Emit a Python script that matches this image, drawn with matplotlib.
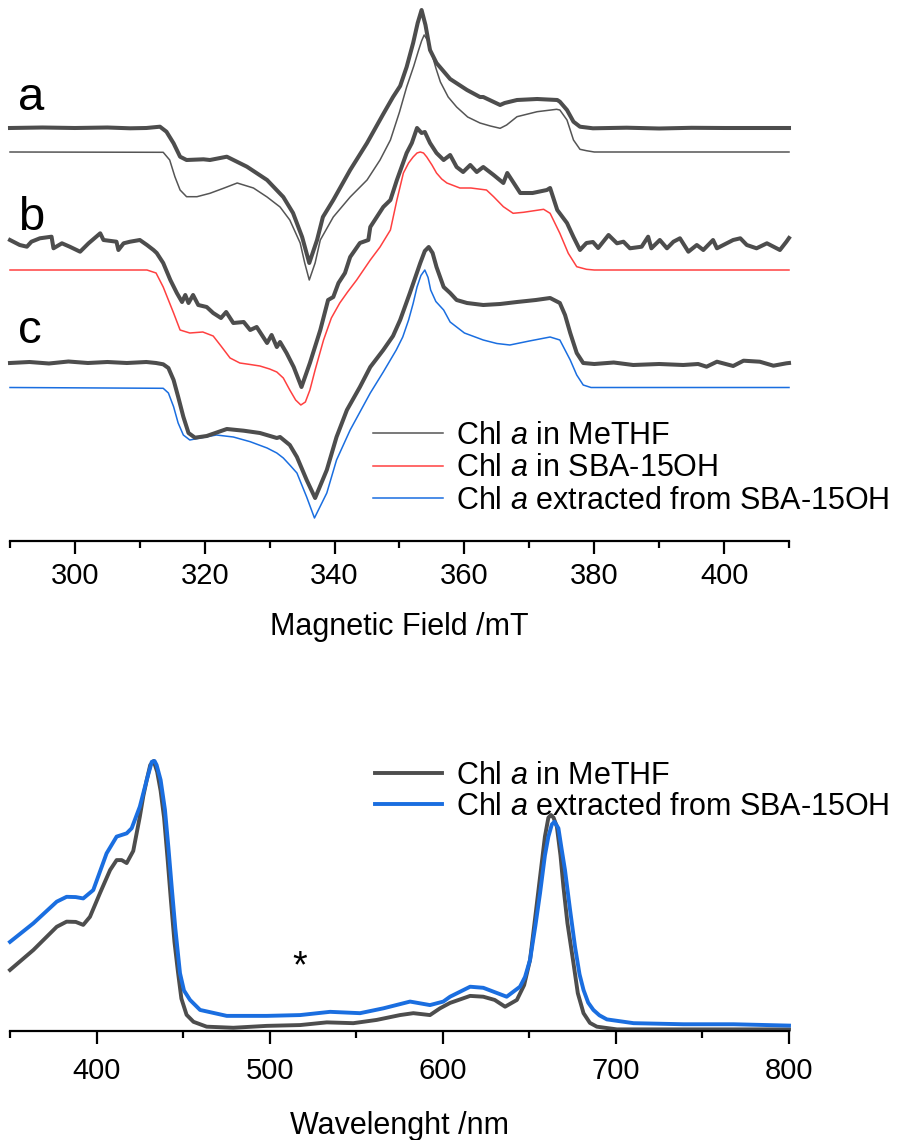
import matplotlib
matplotlib.use("Agg")
import matplotlib.pyplot as plt
from matplotlib.ticker import MultipleLocator

plt.rcParams["font.family"] = ["Liberation Sans", "DejaVu Sans"]
plt.rcParams["mathtext.fontset"] = "custom"
plt.rcParams["mathtext.rm"] = "Liberation Sans"
plt.rcParams["mathtext.it"] = "Liberation Sans:italic"

# ---- EPR (campo magnetico em mT, intensidade relativa a linha de base) ----
a_exp_x = [290, 295, 300, 305, 308.5, 311, 313.1, 314.1, 315.2, 316.2, 317.2, 319.8, 320.8, 323.4,
           326.5, 329.6, 332.1, 333.6, 335, 336.1, 337.3, 338.2, 339.8, 342.4, 345, 347.5, 349,
           350.1, 351.1, 352.1, 352.8, 353.4, 354, 354.7, 355.7, 357.8, 360.4, 362.4, 362.9,
           365.5, 366.2, 368.1, 371.2, 374.3, 374.7, 375.8, 376.8, 377.8, 379.8, 385, 390, 395,
           400, 410]
a_exp_y = [0, 0.5, 0, 0.5, -0.3, 0, 1.3, -3.7, -15.3, -28.7, -32, -31.3, -32, -28.7,
           -38.7, -52, -69, -85, -109, -135, -112, -89, -72, -42, -15, 14, 31,
           42, 61, 85, 105, 118, 103, 78, 65, 49, 38, 31, 31,
           23, 25, 28, 29, 28, 26.3, 18, 6.3, 1.3, -0.3, 0.3, -0.5, 0.2,
           0, 0]

a_sim_x = [290, 313.6, 314.6, 315.4, 316.2, 317.2, 318.8, 320.8, 323, 325, 327.5, 329.6, 331.6,
           333.1, 334.7, 335.4, 336.1, 337, 337.8, 339.8, 342.4, 345, 347, 348.6, 350, 351.1,
           352.2, 352.9, 353.4, 353.8, 354.3, 354.9, 355.6, 356.3, 357.5, 358.8, 360.5, 362.4,
           364, 365.5, 366.5, 368.1, 371.2, 374.2, 374.7, 375.8, 376.8, 377.8, 378.8, 380, 410]
a_sim_y = [0, -0.3, -8, -24.7, -38, -44.7, -44.7, -41.3, -36, -31, -36, -45, -55,
           -68, -91, -111, -128, -111, -88, -65, -45, -28, -8, 12, 40, 65,
           86, 101, 111, 117, 112, 100, 84, 70, 55, 45, 35, 29,
           26, 23.7, 27, 35.3, 40.3, 42.7, 42, 32, 12, 2.7, 1.3, 0, 0]

b_exp_x = [290.0, 291.5, 292.6, 293.3, 294.6, 296.4, 296.7, 298.0, 299.2, 300.8, 302.1, 303.9,
           304.4, 306.4, 306.7, 307.5, 308.5, 310.0, 311.1, 312.1, 312.6, 313.6, 314.7, 315.7,
           316.5, 317, 317.5, 318.2, 319, 320.3, 321.3, 322.5, 323.3, 324.4, 326, 327, 328,
           329.6, 330.3, 331.1, 331.6, 332.6, 333.7, 334.9, 336.2, 337.8, 339, 339.8, 340.6,
           341.6, 342.4, 343.9, 345.2, 345.5, 346.5, 347.5, 348.6, 349.6, 351.1, 351.9, 352.7,
           353.4, 353.9, 354.7, 355.7, 356.8, 357.8, 358.8, 359.8, 360.9, 361.9, 362.9, 364.5,
           366, 366.6, 368.6, 370.5, 372.7, 373.2, 374.3, 375.8, 376.8, 377.8, 378.8, 379.8,
           380.6, 382.2, 383.5, 384.5, 385.5, 387.3, 388.3, 388.8, 390.1, 391.2, 392.2, 393.2,
           394.5, 395.8, 396.8, 398.3, 398.9, 400.4, 401.4, 402.5, 403.5, 405.0, 406.6, 408.6,
           409.6, 410]
b_exp_y = [4, -1, -2.7, 2.3, 5.7, 7.3, -4.3, 0.7, -2.7, -7.7, 0.7, 10.7,
           4, 2.3, -6, 0.7, 2.3, 4, -1, -6, -9, -19, -36, -49,
           -58, -51, -59, -51, -61, -63, -69, -74, -68, -79, -78, -86, -83,
           -99, -91, -103, -98, -109, -123, -143, -119, -86, -56, -53, -39,
           -29, -13, 1, 4, 17, 27, 37, 44, 64, 91, 101, 116,
           111, 112, 101, 91, 84, 89, 77, 72, 79, 72, 77, 69,
           61, 71, 51, 51, 54, 56, 34, 21, 7, -6, 1, 2,
           -4, 9, 0.7, 2.3, -4.3, -2.7, 7.3, -4.3, 4, -4.3, 2.3, 5.7,
           -7.7, -1, -6, 4, -4.3, 0.7, 4, 5.7, -1, -4.3, 0.7, -6,
           2.3, 6]

b_sim_x = [290, 311.1, 312.5, 313.6, 315.2, 316.2, 317.7, 319.7, 321.3, 322.5, 323.9, 325.4,
           327, 328.5, 330, 331.1, 332.1, 333.1, 334.0, 334.8, 335.5, 336.2, 337, 338.3, 339.5,
           340.8, 342, 343.4, 345.5, 347, 348.6, 349.6, 350.6, 351.4, 352.1, 352.7, 353.2,
           353.7, 354.2, 355, 355.7, 356.5, 357.3, 359.3, 361, 363.4, 364.5, 366, 367.5, 369.1,
           372.2, 373.2, 374.7, 376, 377.3, 378.8, 380, 410]
b_sim_y = [0, 0, -3, -17, -43, -60, -63, -62, -66, -76, -88, -93,
           -94.5, -96, -99, -102, -108, -120, -130, -135, -132, -120, -100, -70, -48,
           -33, -22, -10, 10, 23, 40, 70, 97, 107, 113, 117, 118,
           117, 113, 105, 97, 91, 87, 82, 82, 80, 73.3, 63.3, 56.7, 57.7,
           60.7, 56.7, 36.7, 16.7, 3.3, 0.7, 0, 0]

c_exp_x = [290, 293, 296, 299, 302, 305, 308, 311, 312.5, 313.6, 314.4, 315.2, 315.9, 316.7,
           317.5, 318.5, 320.3, 323.4, 326, 328.5, 331.1, 331.6, 333.1, 334.2, 335.7, 337,
           338.8, 340.3, 341.9, 343.9, 345.5, 347.5, 349, 350.1, 351.6, 353.2, 353.9, 354.5,
           355.1, 355.7, 356.8, 357.8, 358.8, 360.4, 362.9, 365.5, 368.1, 371, 373.2, 374.7,
           375.5, 376.3, 377.3, 378.3, 380, 383, 386, 390, 393.7, 396, 397.3, 398.9, 401.4,
           403, 405.5, 407.6, 409.6, 410]
c_exp_y = [0, 1, -0.5, 1.5, 0, 1, 0, 1, 0, -1.3, -5, -17, -33.7, -53.7,
           -70, -74.7, -73, -66, -67.7, -70, -75, -74, -82, -94, -117, -135,
           -107, -74, -47, -24, -4, 13, 27, 43, 70, 100, 112, 116,
           110, 96, 76, 70, 63, 60, 58, 59, 61, 63, 65, 60,
           48, 30, 10, 0, -1, 0.5, -2, -1, -2, -1, -3.7, 1.3, -3,
           2.3, 1.3, -2.7, -0.3, 0]

c_sim_x = [290, 313.6, 314.4, 315.2, 315.9, 316.7, 317.7, 319.3, 321.8, 324.4, 327, 329.6,
           331.1, 332.1, 333.1, 334.2, 335.7, 336.9, 338.8, 340.3, 342.4, 345.5, 347.5, 349.5,
           350.5, 351.4, 352.1, 352.7, 353.3, 353.9, 354.4, 354.8, 355.6, 356.8, 357.8, 360,
           362.9, 365, 367, 370, 373.2, 374.7, 376.3, 377.3, 378.3, 379.5, 410]
c_sim_y = [0, -0.8, -5.5, -19.2, -35.5, -47.5, -52.5, -50.5, -47.5, -49.5, -54.2, -60.5,
           -65.5, -70.5, -77.5, -85.5, -109.5, -130.5, -105.5, -72.5, -42.5, -5.5, 15.5, 37.5,
           50.5, 67.5, 84, 100.5, 112, 117.5, 110, 97.5, 86, 77.5, 65.5, 54.5,
           47.5, 44, 42.5, 46.5, 50.5, 47.5, 27.5, 12.5, 2.5, 0, 0]

# deslocamento vertical de cada espectro (a exp, a sim, b exp, b sim, c exp, c sim)
offsets = [413, 389, 297, 271, 178, 153.5]
letras = ["a", "b", "c"]
letras_y = [431, 311, 198]

legenda_epr = ["Chl $\\it{a}$ in MeTHF", "Chl $\\it{a}$ in SBA-15OH",
               "Chl $\\it{a}$ extracted from SBA-15OH"]

# ---- UV-Vis (absorbancia normalizada) ----
uv_metthf_x = [350, 363.5, 377, 382.7, 388, 392.3, 396.2, 402, 407.8, 411.6, 414.5, 417.4, 421.2,
               425, 427, 429, 431, 433, 435, 437, 439, 441, 443, 445, 447, 449, 452, 456,
               463.6, 479, 498.3, 517.6, 533, 548.3, 561.8, 575.3, 583, 592.6, 598.4, 604.2,
               615.8, 623.4, 630, 636, 642.8, 647, 650.4, 653, 656.2, 659, 661, 662.5, 664,
               665.9, 668, 669.7, 672, 675.5, 678, 681.3, 685, 689, 700.6, 800]
uv_metthf_y = [0.226, 0.300, 0.386, 0.405, 0.404, 0.393, 0.423, 0.511, 0.596, 0.633, 0.633, 0.622,
               0.667, 0.794, 0.87, 0.93, 0.985, 1.0, 0.96, 0.89, 0.79, 0.64, 0.48, 0.33, 0.22,
               0.12, 0.06, 0.034, 0.016, 0.012, 0.019, 0.022, 0.032, 0.029, 0.041, 0.059, 0.066,
               0.059, 0.084, 0.104, 0.130, 0.127, 0.115, 0.090, 0.115, 0.17, 0.263, 0.40, 0.571,
               0.72, 0.79, 0.80, 0.79, 0.757, 0.65, 0.534, 0.40, 0.251, 0.14, 0.066, 0.03, 0.016,
               0.006, 0.006]

uv_extr_x = [350, 363.5, 377, 382.7, 388, 392.3, 398.1, 405.8, 411.6, 417.4, 420.3, 425, 429,
             431.9, 433.5, 434.7, 437, 439.5, 441.5, 443.4, 445.5, 448.2, 450.5, 454, 459.8,
             475.2, 498.3, 517.6, 534.9, 552.2, 565.7, 581.1, 592.6, 600.3, 604.2, 615.8, 623.4,
             636.9, 644.6, 647.5, 650.4, 653.5, 656.2, 659, 661, 663, 664.5, 666.8, 668.5, 670.6,
             673.5, 676.4, 679, 681.3, 684, 687, 690.5, 694.8, 710.2, 739, 767.9, 800]
uv_extr_y = [0.330, 0.399, 0.479, 0.497, 0.496, 0.491, 0.522, 0.658, 0.720, 0.732, 0.751, 0.831,
             0.930, 0.997, 1.0, 0.985, 0.93, 0.82, 0.68, 0.534, 0.38, 0.214, 0.15, 0.115, 0.078,
             0.056, 0.056, 0.059, 0.071, 0.066, 0.084, 0.109, 0.096, 0.109, 0.127, 0.164, 0.160,
             0.127, 0.164, 0.2, 0.263, 0.39, 0.511, 0.65, 0.72, 0.765, 0.775, 0.751, 0.68, 0.596,
             0.45, 0.312, 0.21, 0.152, 0.105, 0.078, 0.058, 0.043, 0.029, 0.025, 0.025, 0.020]

legenda_uv = ["Chl $\\it{a}$ in MeTHF", "Chl $\\it{a}$ extracted from SBA-15OH"]
asterisco = (517.5, 0.235)

cinza = "#4d4d4d"
vermelho = "#ff4040"
azul = "#1a6ee0"

fig = plt.figure(figsize=(9.01, 11.40), dpi=100)

# painel de cima: EPR
ax1 = fig.add_axes([10 / 901, 1 - 541 / 1140, 779 / 901, 541 / 1140])
exps = [(a_exp_x, a_exp_y), (b_exp_x, b_exp_y), (c_exp_x, c_exp_y)]
sims = [(a_sim_x, a_sim_y, "#555555"), (b_sim_x, b_sim_y, vermelho), (c_sim_x, c_sim_y, azul)]
handles = []
for i in range(3):
    sx, sy, cor = sims[i]
    h, = ax1.plot(sx, [v + offsets[2 * i + 1] for v in sy], color=cor, lw=1.1, clip_on=False)
    handles.append(h)
    ex, ey = exps[i]
    ax1.plot(ex, [v + offsets[2 * i] for v in ey], color=cinza, lw=2.9, clip_on=False,
             solid_joinstyle="round")
    ax1.text(291.2, letras_y[i], letras[i], fontsize=34, va="baseline", ha="left")

ax1.set_xlim(290, 410)
ax1.set_ylim(0, 541)
ax1.xaxis.set_major_locator(MultipleLocator(20))
ax1.xaxis.set_minor_locator(MultipleLocator(10))
ax1.tick_params(axis="x", which="major", pad=6)
ax1.set_xlabel("Magnetic Field /mT", fontsize=22, labelpad=16)
fig.legend(handles, legenda_epr, loc="upper left", bbox_to_anchor=(373 / 901, 1 - 421 / 1140),
           frameon=False, fontsize=22, handlelength=2.3, handletextpad=0.4,
           labelspacing=0.08, borderpad=0, borderaxespad=0)

# painel de baixo: UV-Vis
ax2 = fig.add_axes([10 / 901, 1 - 1031 / 1140, 779 / 901, 271 / 1140])
h1, = ax2.plot(uv_metthf_x, uv_metthf_y, color=cinza, lw=2.8, clip_on=False)
h2, = ax2.plot(uv_extr_x, uv_extr_y, color=azul, lw=2.8, clip_on=False)
ax2.text(asterisco[0], asterisco[1], "*", fontsize=27, ha="center", va="center")
ax2.set_xlim(350, 800)
ax2.set_ylim(0, 271 / 270)
ax2.xaxis.set_major_locator(MultipleLocator(100))
ax2.xaxis.set_minor_locator(MultipleLocator(50))
ax2.tick_params(axis="x", which="major", pad=9.5)
ax2.set_xlabel("Wavelenght /nm", fontsize=22, labelpad=19)
fig.legend([h1, h2], legenda_uv, loc="upper left", bbox_to_anchor=(375 / 901, 1 - 761 / 1140),
           frameon=False, fontsize=22, handlelength=2.2, handletextpad=0.45,
           labelspacing=0.03, borderpad=0, borderaxespad=0)

for ax in (ax1, ax2):
    for lado in ("top", "left", "right"):
        ax.spines[lado].set_visible(False)
    ax.spines["bottom"].set_linewidth(1.6)
    ax.set_yticks([])
    ax.tick_params(axis="x", which="major", length=9, width=1.6, labelsize=21)
    ax.tick_params(axis="x", which="minor", length=5, width=1.6)
    ax.patch.set_alpha(0)

fig.savefig("out.png", dpi=100)
